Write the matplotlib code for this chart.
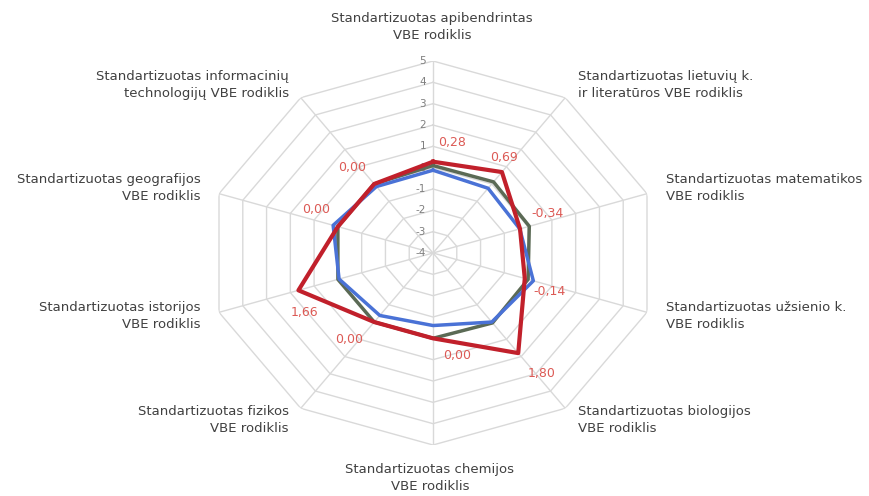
import numpy as np
import matplotlib.pyplot as plt

plt.rcParams['font.family'] = ['DejaVu Sans']

# Rodikliai (ašys pagal laikrodžio rodyklę nuo viršaus)
categories = [
    'Standartizuotas apibendrintas\nVBE rodiklis',
    'Standartizuotas lietuvių k.\nir literatūros VBE rodiklis',
    'Standartizuotas matematikos\nVBE rodiklis',
    'Standartizuotas užsienio k.\nVBE rodiklis',
    'Standartizuotas biologijos\nVBE rodiklis',
    'Standartizuotas chemijos\nVBE rodiklis',
    'Standartizuotas fizikos\nVBE rodiklis',
    'Standartizuotas istorijos\nVBE rodiklis',
    'Standartizuotas geografijos\nVBE rodiklis',
    'Standartizuotas informacinių\ntechnologijų VBE rodiklis',
]

# Serijos
red_vals = [0.28, 0.69, -0.34, -0.14, 1.80, 0.00, 0.00, 1.66, 0.00, 0.00]
gray_vals = [0.10, 0.12, 0.05, 0.00, 0.05, 0.00, 0.00, 0.00, 0.00, 0.00]
blue_vals = [-0.12, -0.25, -0.35, 0.22, 0.00, -0.60, -0.38, -0.05, 0.20, -0.15]

r_ticks = [-4, -3, -2, -1, 0, 1, 2, 3, 4, 5]

fig = plt.figure(figsize=(8.7, 4.96), dpi=100, facecolor='white')
W, H = 870, 496
ax = fig.add_axes([208 / W, 51 / H, 450 / W, 384 / H], projection='polar')
ax.set_aspect('auto')
ax.set_theta_zero_location('N')
ax.set_theta_direction(-1)
ax.set_ylim(-4, 5)
ax.grid(False)
ax.spines['polar'].set_visible(False)
ax.set_xticks([])
ax.set_yticks([])
ax.patch.set_alpha(0)

n = len(categories)
theta = np.linspace(0, 2 * np.pi, n, endpoint=False)
theta_c = np.append(theta, theta[0])

# Tinklelis (dešimtkampiai ir stipinai)
grid_col = '#d9d9d9'
for r in r_ticks[1:]:
    ax.plot(theta_c, [r] * (n + 1), color=grid_col, lw=1, zorder=1)
for t in theta:
    ax.plot([t, t], [-4, 5], color=grid_col, lw=1, zorder=1)

# Ašies žymės
for r in r_ticks:
    ax.annotate(str(r), (0, r), xytext=(-7, 0), textcoords='offset pixels',
                ha='right', va='center', fontsize=7.5, color='#7f7f7f', zorder=2)

def close(v):
    return list(v) + [v[0]]

ax.plot(theta_c, close(gray_vals), color='#5b6a55', lw=2.5, zorder=3)
ax.plot(theta_c, close(blue_vals), color='#4a72d6', lw=2.5, zorder=4)
ax.plot(theta_c, close(red_vals), color='#c1202b', lw=3, zorder=5)

# Duomenų žymės
label_offsets = [(19, 19), (2, 15), (27, 15), (25, -13), (23, -20),
                 (24, -17), (-25, -17), (6, -22), (-22, 17), (-22, 16)]
for t, v, (ox, oy) in zip(theta, red_vals, label_offsets):
    ax.annotate(f'{v:.2f}'.replace('.', ','), (t, v), xytext=(ox, oy),
                textcoords='offset pixels', ha='center', va='center',
                fontsize=9, color='#dc5a55', zorder=6)

# Kategorijų pavadinimai
label_pos = [
    (432, 27, 'center'), (578, 85, 'left'), (666, 188, 'left'),
    (666, 316, 'left'), (578, 420, 'left'), (430, 478, 'center'),
    (289, 420, 'right'), (201, 316, 'right'), (201, 188, 'right'),
    (289, 85, 'right'),
]
for name, (x, y, ha) in zip(categories, label_pos):
    fig.text(x / W, 1 - y / H, name, ha=ha, va='center', multialignment=ha,
             fontsize=9.5, color='#404040', linespacing=1.32)

fig.savefig('out.png', dpi=100, facecolor='white')
